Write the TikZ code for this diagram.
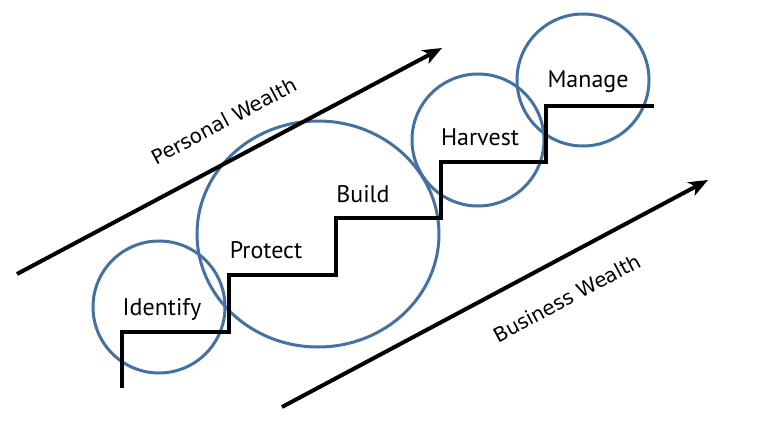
\documentclass[tikz,border=0pt]{standalone}
\usepackage{fontspec}
\usepackage{xcolor}
\usetikzlibrary{positioning, arrows.meta}
\newfontfamily\stagefont{PT Sans}
\newfontfamily\wealthfont{DejaVu Sans}
\definecolor{ringblue}{RGB}{68,113,162}

\begin{document}
\begin{tikzpicture}[
    x=1pt, y=-1pt,
    stage/.style={font=\stagefont\fontsize{24}{28}\selectfont, anchor=base, inner sep=0pt},
    wealth/.style={font=\wealthfont\fontsize{20}{24}\selectfont, rotate=28, inner sep=0pt},
    ring/.style={draw=ringblue, line width=3pt},
    stair/.style={draw=black, line width=4pt, line join=miter},
    arrow/.style={-{Stealth[length=19pt, width=15pt, inset=5pt]}, line width=4pt}
]
\useasboundingbox (0,0) rectangle (768,431);

% rings
\draw[ring] (159,307) circle[radius=66pt];
\draw[ring] (318,234) ellipse[x radius=121pt, y radius=113pt];
\draw[ring] (478,140) circle[radius=66pt];
\draw[ring] (583,80) circle[radius=66pt];

% staircase
\draw[stair] (122,388) -- (122,332) -- (229,332) -- (229,275) -- (336,275)
    -- (336,218) -- (441,218) -- (441,162) -- (546,162) -- (546,106) -- (654,106);

% stage labels
\node[stage] (identify) at (162,315) {Identify};
\node[stage] (protect) at (266,258) {Protect};
\node[stage] (build) at (363,202) {Build};
\node[stage] (harvest) at (480,145) {Harvest};
\node[stage] (manage) at (588,87) {Manage};

% wealth arrows
\coordinate (pw-tail) at (17,274);
\coordinate (pw-tip) at (442,48);
\coordinate (bw-tail) at (282,407);
\coordinate (bw-tip) at (708,180);
\draw[arrow] (pw-tail) -- (pw-tip);
\draw[arrow] (bw-tail) -- (bw-tip);

\node[wealth] (personal) at (224,121) {Personal Wealth};
\node[wealth] (business) at (567,298) {Business Wealth};

\end{tikzpicture}
\end{document}
